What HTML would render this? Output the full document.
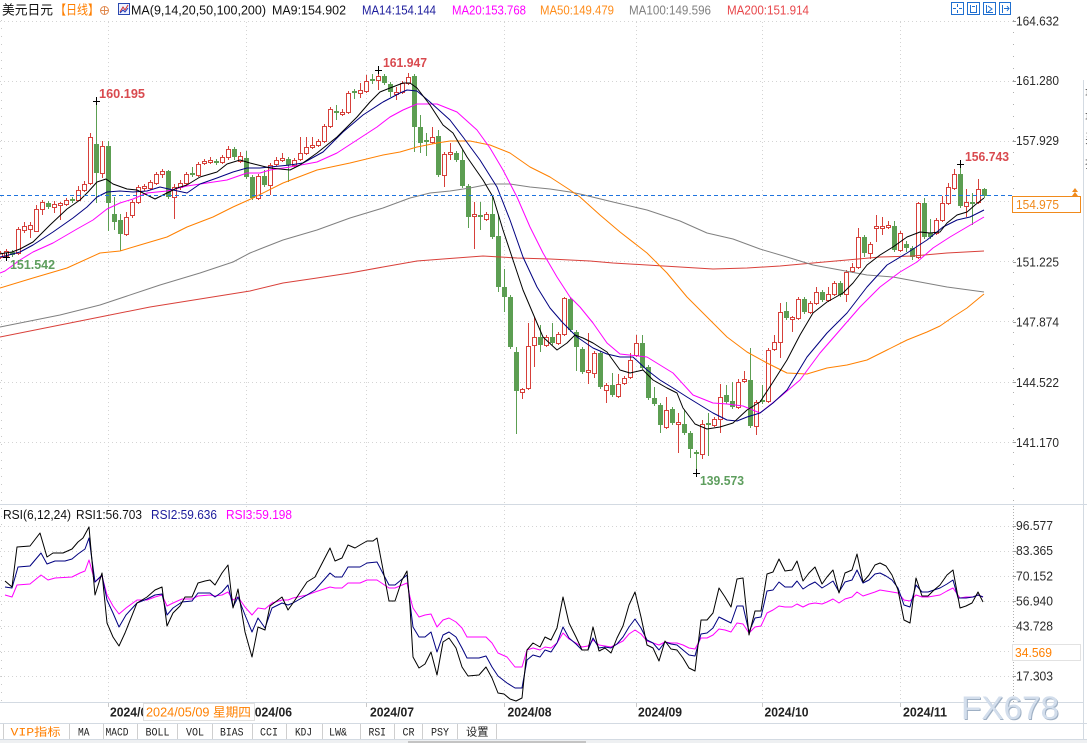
<!DOCTYPE html>
<html><head><meta charset="utf-8">
<style>
html,body{margin:0;padding:0;background:#fff;width:1087px;height:743px;overflow:hidden}
svg{display:block}
text{font-family:"Liberation Sans","Noto Sans CJK SC",sans-serif;font-size:13px}
.ax{fill:#2a2a2a;font-size:12.5px}
.tm{font-weight:bold;font-size:13px;fill:#222}
.tab{font-family:"Liberation Mono","Noto Sans CJK SC",monospace;font-size:11px;fill:#222}
.pk{font-weight:bold;font-size:12.5px}
.wm{font-size:32px}
.sm{font-size:12.5px}
</style></head><body>
<svg width="1087" height="743" viewBox="0 0 1087 743" xmlns="http://www.w3.org/2000/svg">
<defs>
<clipPath id="cm"><rect x="0" y="20" width="1013" height="484"/></clipPath>
<clipPath id="cr"><rect x="0" y="505" width="1013" height="197"/></clipPath>
</defs>
<rect x="0" y="0" width="1087" height="743" fill="#fff"/>

<!-- grid -->
<g stroke="#d4d4d4" stroke-width="1" stroke-dasharray="1 3" fill="none">
<path d="M0 21.5H1013M0 81.5H1013M0 141.5H1013M0 201.5H1013M0 261.5H1013M0 321.5H1013M0 382.5H1013M0 442.5H1013"/>
<path d="M0 526.5H1013M0 551.5H1013M0 576.5H1013M0 601.5H1013M0 626.5H1013M0 651.5H1013M0 676.5H1013"/>
<path d="M108.5 22V702M246.5 22V702M366.5 22V702M504.5 22V702M636.5 22V702M762.5 22V702M900.5 22V702"/>
</g>
<path d="M1.5 20V702" stroke="#c8c8c8" stroke-dasharray="1 7"/>
<!-- right axis -->
<path d="M1013.5 20V504" stroke="#b0b0b0" stroke-dasharray="1 11"/>
<path d="M1013.5 506V702" stroke="#b0b0b0" stroke-dasharray="1 2"/>
<path d="M1013 21.5h3M1013 81.5h3M1013 141.5h3M1013 262.5h3M1013 322.5h3M1013 382.5h3M1013 442.5h3M1013 526.5h3M1013 551.5h3M1013 576.5h3M1013 601.5h3M1013 626.5h3M1013 676.5h3" stroke="#999"/>

<!-- panel separators -->
<path d="M0 504.5H1087M0 702.5H1083M0 723.5H1087M0 739.5H1087" stroke="#d3dae2"/>
<path d="M1083.5 80V740" stroke="#d3dae2"/>
<rect x="0" y="740" width="1087" height="3" fill="#eef0f2"/>
<rect x="408" y="741" width="178" height="2" fill="#c4c4c4"/>

<!-- candles -->
<g clip-path="url(#cm)">
<path fill="none" stroke="#d6403a" d="M0.5 251V259M6.5 249V258M18.5 227V255M24.5 222V233M30.5 222V238M36.5 205V232M42.5 200V215M54.5 201V213M60.5 202V220M66.5 198V206M78.5 186V201M84.5 181V192M90.5 133V185M102.5 141V178M126.5 212V236M132.5 200V218M138.5 185V204M144.5 184V191M150.5 180V190M156.5 172V185M162.5 169V178M174.5 184V219M180.5 180V190M186.5 172V185M198.5 162V177M204.5 159V165M210.5 157V164M222.5 155V164M228.5 146V160M240.5 152V163M258.5 174V200M270.5 163V195M276.5 157V166M282.5 153V162M294.5 158V167M300.5 137V161M306.5 137V155M312.5 137V149M318.5 139V147M324.5 124V143M330.5 107V128M342.5 109V116M348.5 91V114M360.5 83V98M366.5 75V93M378.5 70V90M396.5 87V100M402.5 81V94M408.5 73V85M432.5 127V144M444.5 152V187M450.5 143V160M474.5 202V249M486.5 212V221M522.5 388V399M528.5 323V390M534.5 317V367M546.5 335V347M558.5 332V345M564.5 297V336M588.5 333V384M594.5 351V378M606.5 383V403M618.5 374V398M624.5 376V385M630.5 353V379M636.5 335V357M666.5 397V429M678.5 413V453M702.5 420V459M714.5 417V427M720.5 384V433M738.5 379V409M744.5 371V383M756.5 400V435M768.5 348V403M774.5 335V351M780.5 303V358M792.5 316V332M798.5 297V320M810.5 301V314M816.5 287V305M828.5 287V302M834.5 281V296M846.5 270V302M852.5 263V273M858.5 228V269M870.5 242V259M876.5 215V242M882.5 217V235M888.5 221V229M900.5 231V252M918.5 202V259M936.5 218V235M942.5 196V222M948.5 183V205M954.5 169V190M966.5 189V217M978.5 179V204"/>
<path fill="#fff" stroke="#d6403a" d="M-1.5 253.5h4v4h-4zM4.5 251.5h4v5h-4zM16.5 229.5h4v24h-4zM22.5 226.5h4v4h-4zM28.5 225.5h4v4h-4zM34.5 209.5h4v22h-4zM40.5 202.5h4v7h-4zM52.5 204.5h4v3h-4zM58.5 203.5h4v2h-4zM64.5 200.5h4v4h-4zM76.5 190.5h4v10h-4zM82.5 184.5h4v6h-4zM88.5 137.5h4v46h-4zM100.5 146.5h4v27h-4zM124.5 217.5h4v17h-4zM130.5 202.5h4v13h-4zM136.5 187.5h4v15h-4zM142.5 186.5h4v2h-4zM148.5 182.5h4v6h-4zM154.5 174.5h4v9h-4zM160.5 171.5h4v3h-4zM172.5 187.5h4v10h-4zM178.5 183.5h4v4h-4zM184.5 174.5h4v9h-4zM196.5 164.5h4v11h-4zM202.5 161.5h4v2h-4zM208.5 160.5h4v2h-4zM220.5 157.5h4v5h-4zM226.5 149.5h4v8h-4zM238.5 156.5h4v5h-4zM256.5 176.5h4v22h-4zM268.5 165.5h4v20h-4zM274.5 160.5h4v4h-4zM280.5 158.5h4v2h-4zM292.5 160.5h4v5h-4zM298.5 153.5h4v6h-4zM304.5 147.5h4v6h-4zM310.5 145.5h4v2h-4zM316.5 141.5h4v4h-4zM322.5 126.5h4v15h-4zM328.5 109.5h4v17h-4zM340.5 112.5h4v2h-4zM346.5 93.5h4v19h-4zM358.5 90.5h4v3h-4zM364.5 81.5h4v10h-4zM376.5 76.5h4v4h-4zM394.5 92.5h4v2h-4zM400.5 83.5h4v9h-4zM406.5 77.5h4v6h-4zM430.5 137.5h4v5h-4zM442.5 154.5h4v21h-4zM448.5 152.5h4v2h-4zM472.5 214.5h4v2h-4zM484.5 214.5h4v5h-4zM520.5 389.5h4v3h-4zM526.5 346.5h4v42h-4zM532.5 337.5h4v8h-4zM544.5 337.5h4v8h-4zM556.5 334.5h4v9h-4zM562.5 298.5h4v36h-4zM586.5 370.5h4v2h-4zM592.5 353.5h4v20h-4zM604.5 385.5h4v5h-4zM616.5 384.5h4v12h-4zM622.5 378.5h4v5h-4zM628.5 360.5h4v17h-4zM634.5 343.5h4v12h-4zM664.5 410.5h4v17h-4zM676.5 422.5h4v2h-4zM700.5 424.5h4v30h-4zM712.5 419.5h4v6h-4zM718.5 397.5h4v22h-4zM736.5 382.5h4v25h-4zM742.5 379.5h4v2h-4zM754.5 402.5h4v24h-4zM766.5 350.5h4v51h-4zM772.5 342.5h4v7h-4zM778.5 312.5h4v30h-4zM790.5 317.5h4v2h-4zM796.5 299.5h4v19h-4zM808.5 303.5h4v9h-4zM814.5 292.5h4v11h-4zM826.5 294.5h4v6h-4zM832.5 283.5h4v11h-4zM844.5 272.5h4v22h-4zM850.5 267.5h4v4h-4zM856.5 237.5h4v30h-4zM868.5 244.5h4v9h-4zM874.5 226.5h4v2h-4zM880.5 226.5h4v2h-4zM886.5 225.5h4v2h-4zM898.5 233.5h4v17h-4zM916.5 203.5h4v54h-4zM934.5 220.5h4v13h-4zM940.5 203.5h4v17h-4zM946.5 187.5h4v16h-4zM952.5 174.5h4v14h-4zM964.5 202.5h4v4h-4zM976.5 189.5h4v13h-4z"/>
<path fill="none" stroke="#5c9e52" d="M12.5 250V257M48.5 201V209M72.5 197V203M96.5 101V203M108.5 141V231M114.5 197V230M120.5 214V251M168.5 170V199M192.5 167V177M216.5 159V165M234.5 147V160M246.5 151V179M252.5 175V200M264.5 170V187M288.5 157V182M336.5 105V120M354.5 89V99M372.5 74V84M384.5 74V85M390.5 82V97M414.5 74V152M420.5 115V153M426.5 133V156M438.5 130V177M456.5 151V162M462.5 150V188M468.5 184V228M480.5 202V230M492.5 195V239M498.5 215V292M504.5 269V312M510.5 295V349M516.5 347V434M540.5 325V352M552.5 323V345M570.5 297V332M576.5 330V371M582.5 347V374M600.5 351V389M612.5 373V397M642.5 335V370M648.5 365V400M654.5 387V406M660.5 403V433M672.5 407V425M684.5 410V435M690.5 431V458M696.5 450V473M708.5 413V456M726.5 385V404M732.5 382V409M750.5 348V428M762.5 385V404M786.5 302V320M804.5 297V314M822.5 290V302M840.5 281V297M864.5 235V257M894.5 221V252M906.5 241V252M912.5 246V260M924.5 198V239M930.5 219V239M960.5 164V208M972.5 193V225M984.5 188V198"/>
<path fill="#5c9e52" d="M10 252h5v3h-5zM46 203h5v4h-5zM70 199h5v2h-5zM94 144h5v29h-5zM106 146h5v57h-5zM112 214h5v8h-5zM118 220h5v14h-5zM166 171h5v26h-5zM190 173h5v2h-5zM214 161h5v2h-5zM232 149h5v8h-5zM244 158h5v19h-5zM250 177h5v21h-5zM262 176h5v9h-5zM286 159h5v6h-5zM334 111h5v2h-5zM352 91h5v2h-5zM370 79h5v2h-5zM382 76h5v7h-5zM388 84h5v8h-5zM412 76h5v51h-5zM418 127h5v16h-5zM424 140h5v2h-5zM436 136h5v39h-5zM454 153h5v7h-5zM460 160h5v26h-5zM466 186h5v31h-5zM478 215h5v2h-5zM490 214h5v23h-5zM496 236h5v51h-5zM502 287h5v10h-5zM508 297h5v50h-5zM514 352h5v39h-5zM538 337h5v8h-5zM550 337h5v6h-5zM568 299h5v31h-5zM574 332h5v15h-5zM580 349h5v23h-5zM598 353h5v34h-5zM610 385h5v10h-5zM640 343h5v25h-5zM646 367h5v31h-5zM652 398h5v6h-5zM658 405h5v20h-5zM670 409h5v14h-5zM682 424h5v9h-5zM688 433h5v16h-5zM694 452h5v2h-5zM706 423h5v2h-5zM724 395h5v7h-5zM730 401h5v6h-5zM748 380h5v46h-5zM760 400h5v2h-5zM784 311h5v7h-5zM802 299h5v13h-5zM820 292h5v8h-5zM838 283h5v12h-5zM862 237h5v16h-5zM892 226h5v24h-5zM904 244h5v4h-5zM910 248h5v9h-5zM922 203h5v34h-5zM928 233h5v4h-5zM958 174h5v32h-5zM970 202h5v2h-5zM982 189h5v7h-5z"/>

<!-- moving averages -->
<g fill="none" stroke-width="1" stroke-linejoin="round">
<polyline stroke="#d9403a" points="0,337 50,327 100,317 150,307 200,299 250,291 283,283 317,278 350,273 383,267 417,261 443,259 483,256 517,258 550,259 590,261 613,263 647,265 680,267 713,269 747,268 780,266 813,263 847,260 880,257 913,256 947,253 984,251"/>
<polyline stroke="#808080" points="0,327 30,321 60,315 100,305 148,289 160,285 200,273 233,262 250,253 260,249 283,240 317,230 350,218 383,208 410,198 430,193 450,191 470,188 490,184 510,184 530,187 550,189 570,192 580,194 613,202 647,210 680,221 707,233 733,239 760,249 787,257 813,265 840,270 867,275 893,277 920,282 947,287 984,292"/>
<polyline stroke="#ff8000" points="0,288 33,278 67,268 100,253 120,251 140,245 167,237 187,227 213,217 233,207 253,198 283,183 317,170 350,163 383,155 400,152 417,147 437,143 450,141 470,141 490,145 510,153 530,167 550,177 570,190 580,197 600,215 620,232 647,253 667,273 687,297 707,317 727,337 747,352 767,363 787,373 807,374 827,368 847,365 867,360 887,350 907,340 927,332 940,326 953,317 967,308 984,294"/>
<polyline stroke="#ff00ff" points="0,273 5,271 20,260 33,252 53,243 77,229 93,220 107,209 120,203 133,199 147,193 167,191 187,186 207,183 227,180 247,173 260,173 270,170 290,167 317,162 337,153 357,140 377,127 390,117 403,110 417,104 437,104 457,112 477,130 490,148 503,170 517,197 530,227 543,253 557,277 570,297 580,307 593,323 607,343 620,354 647,357 673,373 693,395 713,403 727,404 743,406 760,413 780,397 800,380 820,353 840,330 860,307 880,287 900,272 917,262 933,248 950,237 967,227 984,217"/>
<polyline stroke="#000080" points="0,257 5,256 20,252 33,245 53,232 73,218 87,207 97,197 107,192 120,191 133,192 147,191 160,187 173,190 187,193 200,184 217,178 233,172 247,168 260,168 290,165 303,163 323,152 343,132 363,115 383,102 400,93 407,90 417,91 430,102 450,120 463,137 480,160 497,187 510,220 523,257 537,287 550,308 563,323 577,337 593,348 607,354 620,357 633,357 647,370 660,380 673,388 687,397 700,405 713,413 727,420 737,421 747,417 760,413 773,403 787,390 807,357 827,333 847,313 867,287 887,265 907,253 927,240 943,227 957,220 970,217 984,210"/>
<polyline stroke="#000" points="0,254 5,253 12,252 20,249 33,242 50,225 67,209 80,200 88,192 97,182 106,179 113,184 127,189 137,190 147,195 155,199 163,195 177,188 187,185 200,177 217,172 227,164 240,160 250,163 270,168 290,170 300,165 317,153 337,137 357,117 370,102 380,92 390,88 403,83 410,83 417,88 430,105 443,125 453,133 467,157 483,180 493,197 503,230 513,260 523,290 537,323 543,337 557,350 567,343 575,335 583,338 593,343 607,352 620,370 630,373 643,370 653,380 667,388 677,393 683,408 695,424 707,429 720,427 733,423 747,410 760,402 773,382 787,360 800,335 813,313 827,302 843,293 853,283 867,265 880,255 893,247 907,237 920,232 930,233 940,232 947,223 957,215 967,212 975,205 984,198"/>
</g>
<!-- markers -->
<path stroke="#000" fill="none" d="M96.5 97V105M93 101.5H100M378.5 66V74M375 70.5H382M960.5 160V168M957 164.5H964M696.5 469V477M693 473.5H700M6.5 253V261M3 257.5H10"/>
</g>
<!-- current price dashed line -->
<path d="M0 195.5H1013" stroke="#1f74de" stroke-dasharray="4 3"/>

<!-- peak labels -->
<text class="pk" x="99" y="98" fill="#d94a4f" textLength="46" lengthAdjust="spacingAndGlyphs">160.195</text>
<text class="pk" x="383" y="67" fill="#d94a4f" textLength="44" lengthAdjust="spacingAndGlyphs">161.947</text>
<text class="pk" x="965" y="161" fill="#d94a4f" textLength="44" lengthAdjust="spacingAndGlyphs">156.743</text>
<text class="pk" x="10" y="269" fill="#5e9e5e" textLength="45" lengthAdjust="spacingAndGlyphs">151.542</text>
<text class="pk" x="700" y="485" fill="#5e9e5e" textLength="44" lengthAdjust="spacingAndGlyphs">139.573</text>

<!-- RSI lines -->
<g clip-path="url(#cr)" fill="none" stroke-width="1" stroke-linejoin="round">
<polyline stroke="#ff00ff" points="5,595 12,597 17,585 30,584 41,575 48,580 55,578 72,577 80,573 85,571 89,560 95,582 102,576 107,595 113,606 119,614 126,608 137,600 147,600 155,597 162,595 167,606 173,603 182,599 192,599 198,596 210,595 215,596 222,595 228,592 233,600 238,597 245,607 252,615 258,608 265,609 272,603 282,600 288,600 293,598 307,595 315,592 330,587 335,588 342,588 348,583 360,583 367,580 377,580 389,588 395,588 407,583 410,597 413,608 419,617 425,615 431,614 437,627 443,620 449,618 456,622 462,628 467,637 479,637 486,637 492,643 498,653 507,657 515,667 522,667 527,650 533,648 540,650 545,647 551,648 557,643 563,633 569,639 576,643 582,647 588,646 593,640 599,645 605,646 611,647 617,644 623,641 629,634 635,630 641,634 647,641 653,643 659,645 665,642 671,643 677,643 683,645 689,648 695,649 701,638 707,638 713,635 719,629 725,630 731,632 737,623 743,624 749,633 755,627 761,626 767,613 773,610 779,606 785,607 792,607 797,604 803,607 809,604 815,603 822,604 827,602 833,599 839,603 845,599 852,597 857,592 863,596 869,594 875,592 880,590 886,591 892,592 898,593 904,600 910,601 916,595 922,597 928,597 934,596 940,595 947,591 953,588 960,598 966,597 973,597 978,595 983,597"/>
<polyline stroke="#000080" points="5,587 12,588 18,567 30,566 41,553 47,564 55,561 65,561 72,559 78,554 85,549 89,538 95,582 102,575 107,600 113,613 119,627 126,615 137,603 147,599 155,595 162,594 167,615 173,608 182,602 192,601 198,593 210,593 215,597 222,592 228,585 233,607 238,597 245,615 252,632 258,618 265,628 272,608 282,603 288,605 293,603 307,595 315,590 330,573 335,577 342,577 348,567 360,567 367,563 377,562 389,585 395,585 407,575 410,603 413,627 419,637 425,637 431,632 437,652 443,635 449,632 456,637 462,648 467,658 479,658 486,656 492,667 498,676 507,683 515,688 522,688 527,660 533,655 540,657 545,650 551,652 557,643 563,627 569,638 576,644 582,650 588,650 593,638 599,648 605,647 611,648 617,644 623,637 629,627 635,619 641,628 647,640 653,643 659,650 665,642 671,644 677,645 683,650 689,655 695,656 701,634 707,633 713,628 719,617 725,620 731,623 737,606 743,606 749,632 755,618 761,617 767,591 773,590 779,582 785,587 792,587 797,581 803,589 809,585 815,582 822,588 827,585 833,581 839,592 845,582 852,580 857,570 863,583 869,580 875,574 880,573 886,576 892,580 898,588 904,605 910,607 916,585 922,592 928,592 934,590 940,588 947,584 953,580 958,598 966,598 973,597 978,595 983,597"/>
<polyline stroke="#000" points="5,581 12,587 17,547 30,546 40,533 47,557 53,553 63,553 72,549 78,542 83,538 89,527 95,595 102,573 107,623 113,637 119,646 125,633 137,603 147,597 155,590 162,587 167,626 173,613 180,606 185,597 192,597 198,583 205,581 210,580 215,585 222,573 228,565 233,608 238,589 245,632 252,657 258,627 265,630 270,606 282,597 288,610 293,603 307,582 315,577 330,548 335,561 342,558 348,545 355,548 360,545 367,541 373,541 377,538 389,601 395,601 402,580 407,571 410,607 413,657 419,668 425,664 431,652 437,675 443,642 449,638 456,648 462,667 468,676 479,675 486,667 492,678 498,693 504,694 510,699 516,701 522,698 527,650 533,643 540,647 545,637 551,640 557,628 563,597 569,623 576,637 582,650 588,650 593,627 599,651 605,648 611,653 617,638 623,626 629,605 635,592 641,617 647,645 653,648 659,661 665,641 671,649 677,650 683,658 689,668 695,671 701,620 707,620 713,613 719,588 725,597 731,607 737,579 743,578 749,635 755,611 761,611 767,574 773,572 779,559 785,571 792,570 797,561 803,581 809,573 815,567 822,584 827,577 833,570 839,593 845,573 852,570 857,554 863,582 869,575 875,565 880,563 886,566 892,575 898,590 904,620 910,623 916,578 922,596 928,596 934,590 940,585 947,575 953,570 960,608 966,606 972,603 978,592 983,602"/>
</g>

<!-- top legend -->
<text x="2" y="14.5" fill="#111" textLength="51" lengthAdjust="spacingAndGlyphs">美元日元</text>
<text x="55" y="14.5" fill="#ff7f00" textLength="44" lengthAdjust="spacingAndGlyphs">【日线】</text>
<circle cx="104.5" cy="10.5" r="4" fill="none" stroke="#e08a50"/>
<path d="M100.5 10.5h8M104.5 6.5v8" stroke="#e08a50"/>
<rect x="118.5" y="3.5" width="11" height="11" fill="#eef2ff" stroke="#2a48b0"/>
<polyline points="120,12 123,7 125,10 128,5" fill="none" stroke="#d03030"/>
<polyline points="120,13 123,10 125,12 128,8" fill="none" stroke="#2040c0"/>
<text x="131" y="14.5" fill="#111" textLength="135" lengthAdjust="spacingAndGlyphs">MA(9,14,20,50,100,200)</text>
<text x="272" y="14.5" fill="#111" textLength="74" lengthAdjust="spacingAndGlyphs">MA9:154.902</text>
<text x="362" y="14.5" fill="#1c1c9c" textLength="74" lengthAdjust="spacingAndGlyphs">MA14:154.144</text>
<text x="452" y="14.5" fill="#ff00ff" textLength="74" lengthAdjust="spacingAndGlyphs">MA20:153.768</text>
<text x="540" y="14.5" fill="#ff8c1a" textLength="74" lengthAdjust="spacingAndGlyphs">MA50:149.479</text>
<text x="629" y="14.5" fill="#808080" textLength="82" lengthAdjust="spacingAndGlyphs">MA100:149.596</text>
<text x="727" y="14.5" fill="#e8464a" textLength="82" lengthAdjust="spacingAndGlyphs">MA200:151.914</text>
<!-- top right icons -->
<g fill="none" stroke="#1f6fd0">
<rect x="951.5" y="2.5" width="12" height="12"/>
<rect x="967.5" y="2.5" width="12" height="12"/>
<rect x="983.5" y="2.5" width="12" height="12"/>
<rect x="999.5" y="2.5" width="11" height="12"/>
<path d="M957.5 4v3M957.5 10v3M953 8.5h3M959 8.5h3"/>
<path d="M970.5 5v8M976.5 5v8M970 12.5h7M972 6.5h3"/>
<path d="M986.5 5v8M986 12.5h7M988 6l4 3-4 3"/>
<path d="M1002.5 5v8M1004 8.5h5M1007 6l2 2.5-2 2.5"/>
</g>

<!-- right axis labels -->
<text class="ax" x="1016" y="25.5" textLength="43" lengthAdjust="spacingAndGlyphs">164.632</text>
<text class="ax" x="1016" y="85" textLength="43" lengthAdjust="spacingAndGlyphs">161.280</text>
<text class="ax" x="1016" y="145" textLength="43" lengthAdjust="spacingAndGlyphs">157.929</text>
<text class="ax" x="1016" y="266.5" textLength="43" lengthAdjust="spacingAndGlyphs">151.225</text>
<text class="ax" x="1016" y="326.5" textLength="43" lengthAdjust="spacingAndGlyphs">147.874</text>
<text class="ax" x="1016" y="387" textLength="43" lengthAdjust="spacingAndGlyphs">144.522</text>
<text class="ax" x="1016" y="447" textLength="43" lengthAdjust="spacingAndGlyphs">141.170</text>
<rect x="1012.5" y="196.5" width="68" height="16" fill="#fff" stroke="#f08a1c"/>
<text class="sm" x="1016" y="209" fill="#f08a1c" textLength="43" lengthAdjust="spacingAndGlyphs">154.975</text>
<path d="M1072 192l3-4 3 4zM1072 196l3-4 3 4z" fill="#f08a1c"/>

<!-- RSI legend + axis -->
<text x="3" y="519" fill="#111" textLength="68" lengthAdjust="spacingAndGlyphs">RSI(6,12,24)</text>
<text x="76" y="519" fill="#111" textLength="66" lengthAdjust="spacingAndGlyphs">RSI1:56.703</text>
<text x="151" y="519" fill="#1c1c9c" textLength="66" lengthAdjust="spacingAndGlyphs">RSI2:59.636</text>
<text x="226" y="519" fill="#ff00ff" textLength="66" lengthAdjust="spacingAndGlyphs">RSI3:59.198</text>
<text class="ax" x="1016" y="530" textLength="37" lengthAdjust="spacingAndGlyphs">96.577</text>
<text class="ax" x="1016" y="555" textLength="37" lengthAdjust="spacingAndGlyphs">83.365</text>
<text class="ax" x="1016" y="580.5" textLength="37" lengthAdjust="spacingAndGlyphs">70.152</text>
<text class="ax" x="1016" y="605.5" textLength="37" lengthAdjust="spacingAndGlyphs">56.940</text>
<text class="ax" x="1016" y="630.5" textLength="37" lengthAdjust="spacingAndGlyphs">43.728</text>
<rect x="1012.5" y="644.5" width="68" height="16" fill="#fff" stroke="#e2e2e2"/>
<text class="sm" x="1015" y="657" fill="#ff8000" textLength="37" lengthAdjust="spacingAndGlyphs">34.569</text>
<text class="ax" x="1016" y="680.5" textLength="37" lengthAdjust="spacingAndGlyphs">17.303</text>

<!-- time axis -->
<path d="M108.5 703v4M246.5 703v4M366.5 703v4M504.5 703v4M636.5 703v4M762.5 703v4M900.5 703v4" stroke="#c8c8c8"/>
<text class="tm" x="110" y="716.5" textLength="44" lengthAdjust="spacingAndGlyphs">2024/05</text>
<text class="tm" x="248" y="716.5" textLength="44" lengthAdjust="spacingAndGlyphs">2024/06</text>
<text class="tm" x="370" y="716.5" textLength="44" lengthAdjust="spacingAndGlyphs">2024/07</text>
<text class="tm" x="507.5" y="716.5" textLength="44" lengthAdjust="spacingAndGlyphs">2024/08</text>
<text class="tm" x="638" y="716.5" textLength="44" lengthAdjust="spacingAndGlyphs">2024/09</text>
<text class="tm" x="764.5" y="716.5" textLength="44" lengthAdjust="spacingAndGlyphs">2024/10</text>
<text class="tm" x="903" y="716.5" textLength="44" lengthAdjust="spacingAndGlyphs">2024/11</text>
<rect x="143.5" y="703.5" width="111" height="17" fill="#fff" stroke="#e0e0e0"/>
<text class="sm" x="146" y="716.5" fill="#ff8000" textLength="105" lengthAdjust="spacingAndGlyphs">2024/05/09 星期四</text>

<!-- watermark -->
<text class="wm" x="962" y="720" fill="#9fb0c4" textLength="98" lengthAdjust="spacingAndGlyphs">FX678</text>
<text class="wm" x="961" y="719" fill="#d3deec" textLength="98" lengthAdjust="spacingAndGlyphs">FX678</text>

<!-- tabs -->
<path d="M3.5 724v15M69.5 724v15M103.5 724v15M137.5 724v15M177.5 724v15M212.5 724v15M252.5 724v15M286.5 724v15M322.5 724v15M360.5 724v15M394.5 724v15M422.5 724v15M457.5 724v15M496.5 724v15" stroke="#cfcfcf"/>
<text class="tab" x="10.5" y="735.5" style="fill:#ff7f00" textLength="50" lengthAdjust="spacingAndGlyphs">VIP指标</text>
<text class="tab" x="78" y="735.5" textLength="11.5" lengthAdjust="spacingAndGlyphs">MA</text>
<text class="tab" x="105.5" y="735.5" textLength="23" lengthAdjust="spacingAndGlyphs">MACD</text>
<text class="tab" x="145.5" y="735.5" textLength="24" lengthAdjust="spacingAndGlyphs">BOLL</text>
<text class="tab" x="186" y="735.5" textLength="18" lengthAdjust="spacingAndGlyphs">VOL</text>
<text class="tab" x="220" y="735.5" textLength="23.5" lengthAdjust="spacingAndGlyphs">BIAS</text>
<text class="tab" x="260" y="735.5" textLength="18" lengthAdjust="spacingAndGlyphs">CCI</text>
<text class="tab" x="295" y="735.5" textLength="17" lengthAdjust="spacingAndGlyphs">KDJ</text>
<text class="tab" x="329" y="735.5" textLength="18" lengthAdjust="spacingAndGlyphs">LW&amp;</text>
<text class="tab" x="368.5" y="735.5" textLength="17.5" lengthAdjust="spacingAndGlyphs">RSI</text>
<text class="tab" x="402.5" y="735.5" textLength="12" lengthAdjust="spacingAndGlyphs">CR</text>
<text class="tab" x="431" y="735.5" textLength="18" lengthAdjust="spacingAndGlyphs">PSY</text>
<text class="tab" x="466" y="735.5" textLength="22.5" lengthAdjust="spacingAndGlyphs">设置</text>

<!-- right side strip partial chars -->
<text x="1085" y="95" fill="#555">最</text>
<text x="1085" y="119" fill="#555">最</text>
<text x="1085" y="143" fill="#555">买</text>
<text x="1085" y="168" fill="#555">振</text>
</svg>
</body></html>
